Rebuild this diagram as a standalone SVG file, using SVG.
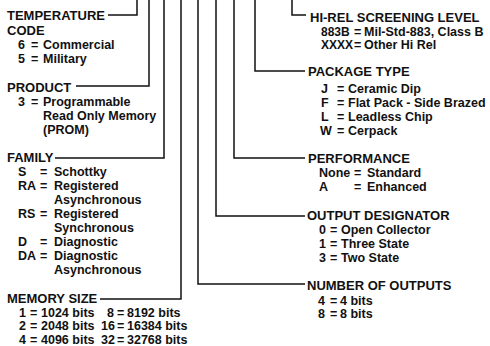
<svg xmlns="http://www.w3.org/2000/svg" width="490" height="346" viewBox="0 0 490 346">
<style>
text{font-family:"Liberation Sans",Arial,sans-serif;font-weight:bold;fill:#111}
.h{font-size:13px}
.i{font-size:12.5px}
.c path{fill:none;stroke:#111;stroke-width:1.5}
</style>
<rect width="490" height="346" fill="#fff"/>
<g class="c" id="connectors">
<path d="M108 15H137V0"/>
<path d="M76 86H149V0"/>
<path d="M55 158H164V0"/>
<path d="M100 299H181V0"/>
<path d="M305 284H198V0"/>
<path d="M305 216H216V0"/>
<path d="M305 158H234V0"/>
<path d="M305 71H255V0"/>
<path d="M306 15H292V0"/>
</g>
<g id="temperature">
<text class="h" x="7" y="20">TEMPERATURE</text>
<text class="h" x="7" y="35">CODE</text>
<text class="i" x="18" y="49">6</text><text class="i" x="31" y="49">=</text><text class="i" x="43" y="49">Commercial</text>
<text class="i" x="18" y="63">5</text><text class="i" x="31" y="63">=</text><text class="i" x="43" y="63">Military</text>
</g>
<g id="product">
<text class="h" x="7" y="92">PRODUCT</text>
<text class="i" x="18" y="106">3</text><text class="i" x="31" y="106">=</text><text class="i" x="43" y="106">Programmable</text>
<text class="i" x="43" y="120">Read Only Memory</text>
<text class="i" x="43" y="134">(PROM)</text>
</g>
<g id="family">
<text class="h" x="7" y="162">FAMILY</text>
<text class="i" x="18" y="176">S</text><text class="i" x="40" y="176">=</text><text class="i" x="54" y="176">Schottky</text>
<text class="i" x="18" y="190">RA</text><text class="i" x="40" y="190">=</text><text class="i" x="54" y="190">Registered</text>
<text class="i" x="54" y="204">Asynchronous</text>
<text class="i" x="18" y="218">RS</text><text class="i" x="40" y="218">=</text><text class="i" x="54" y="218">Registered</text>
<text class="i" x="54" y="232">Synchronous</text>
<text class="i" x="18" y="246">D</text><text class="i" x="40" y="246">=</text><text class="i" x="54" y="246">Diagnostic</text>
<text class="i" x="18" y="260">DA</text><text class="i" x="40" y="260">=</text><text class="i" x="54" y="260">Diagnostic</text>
<text class="i" x="54" y="274">Asynchronous</text>
</g>
<g id="memory-size">
<text class="h" x="7" y="303">MEMORY SIZE</text>
<text class="i" x="19" y="316.5">1</text><text class="i" x="30" y="316.5">=</text><text class="i" x="41" y="316.5">1024 bits</text>
<text class="i" x="107" y="316.5">8</text><text class="i" x="117" y="316.5">=</text><text class="i" x="127" y="316.5">8192 bits</text>
<text class="i" x="19" y="330">2</text><text class="i" x="30" y="330">=</text><text class="i" x="41" y="330">2048 bits</text>
<text class="i" x="101" y="330">16</text><text class="i" x="117" y="330">=</text><text class="i" x="127" y="330">16384 bits</text>
<text class="i" x="19" y="343.5">4</text><text class="i" x="30" y="343.5">=</text><text class="i" x="41" y="343.5">4096 bits</text>
<text class="i" x="101" y="343.5">32</text><text class="i" x="117" y="343.5">=</text><text class="i" x="127" y="343.5">32768 bits</text>
</g>
<g id="hi-rel">
<text class="h" x="310" y="21.5">HI-REL SCREENING LEVEL</text>
<text class="i" x="321" y="36" style="font-size:12px">883B</text><text class="i" x="354" y="36">=</text><text class="i" x="364" y="36">Mil-Std-883, Class B</text>
<text class="i" x="321" y="49" style="font-size:12px">XXXX</text><text class="i" x="354" y="49">=</text><text class="i" x="364" y="49">Other Hi Rel</text>
</g>
<g id="package-type">
<text class="h" x="308" y="76">PACKAGE TYPE</text>
<text class="i" x="321" y="93">J</text><text class="i" x="337" y="93">=</text><text class="i" x="348" y="93">Ceramic Dip</text>
<text class="i" x="321" y="107">F</text><text class="i" x="337" y="107">=</text><text class="i" x="348" y="107">Flat Pack - Side Brazed</text>
<text class="i" x="321" y="121">L</text><text class="i" x="337" y="121">=</text><text class="i" x="348" y="121">Leadless Chip</text>
<text class="i" x="320" y="135">W</text><text class="i" x="337" y="135">=</text><text class="i" x="348" y="135">Cerpack</text>
</g>
<g id="performance">
<text class="h" x="308" y="163">PERFORMANCE</text>
<text class="i" x="319" y="177">None</text><text class="i" x="354" y="177">=</text><text class="i" x="367" y="177">Standard</text>
<text class="i" x="319" y="191">A</text><text class="i" x="354" y="191">=</text><text class="i" x="367" y="191">Enhanced</text>
</g>
<g id="output-designator">
<text class="h" x="307" y="220">OUTPUT DESIGNATOR</text>
<text class="i" x="319" y="234">0</text><text class="i" x="330" y="234">=</text><text class="i" x="341" y="234">Open Collector</text>
<text class="i" x="319" y="248">1</text><text class="i" x="330" y="248">=</text><text class="i" x="341" y="248">Three State</text>
<text class="i" x="319" y="262">3</text><text class="i" x="330" y="262">=</text><text class="i" x="341" y="262">Two State</text>
</g>
<g id="number-of-outputs">
<text class="h" x="307" y="290">NUMBER OF OUTPUTS</text>
<text class="i" x="318" y="305">4</text><text class="i" x="330" y="305">=</text><text class="i" x="340" y="305">4 bits</text>
<text class="i" x="318" y="318">8</text><text class="i" x="330" y="318">=</text><text class="i" x="340" y="318">8 bits</text>
</g>
</svg>
